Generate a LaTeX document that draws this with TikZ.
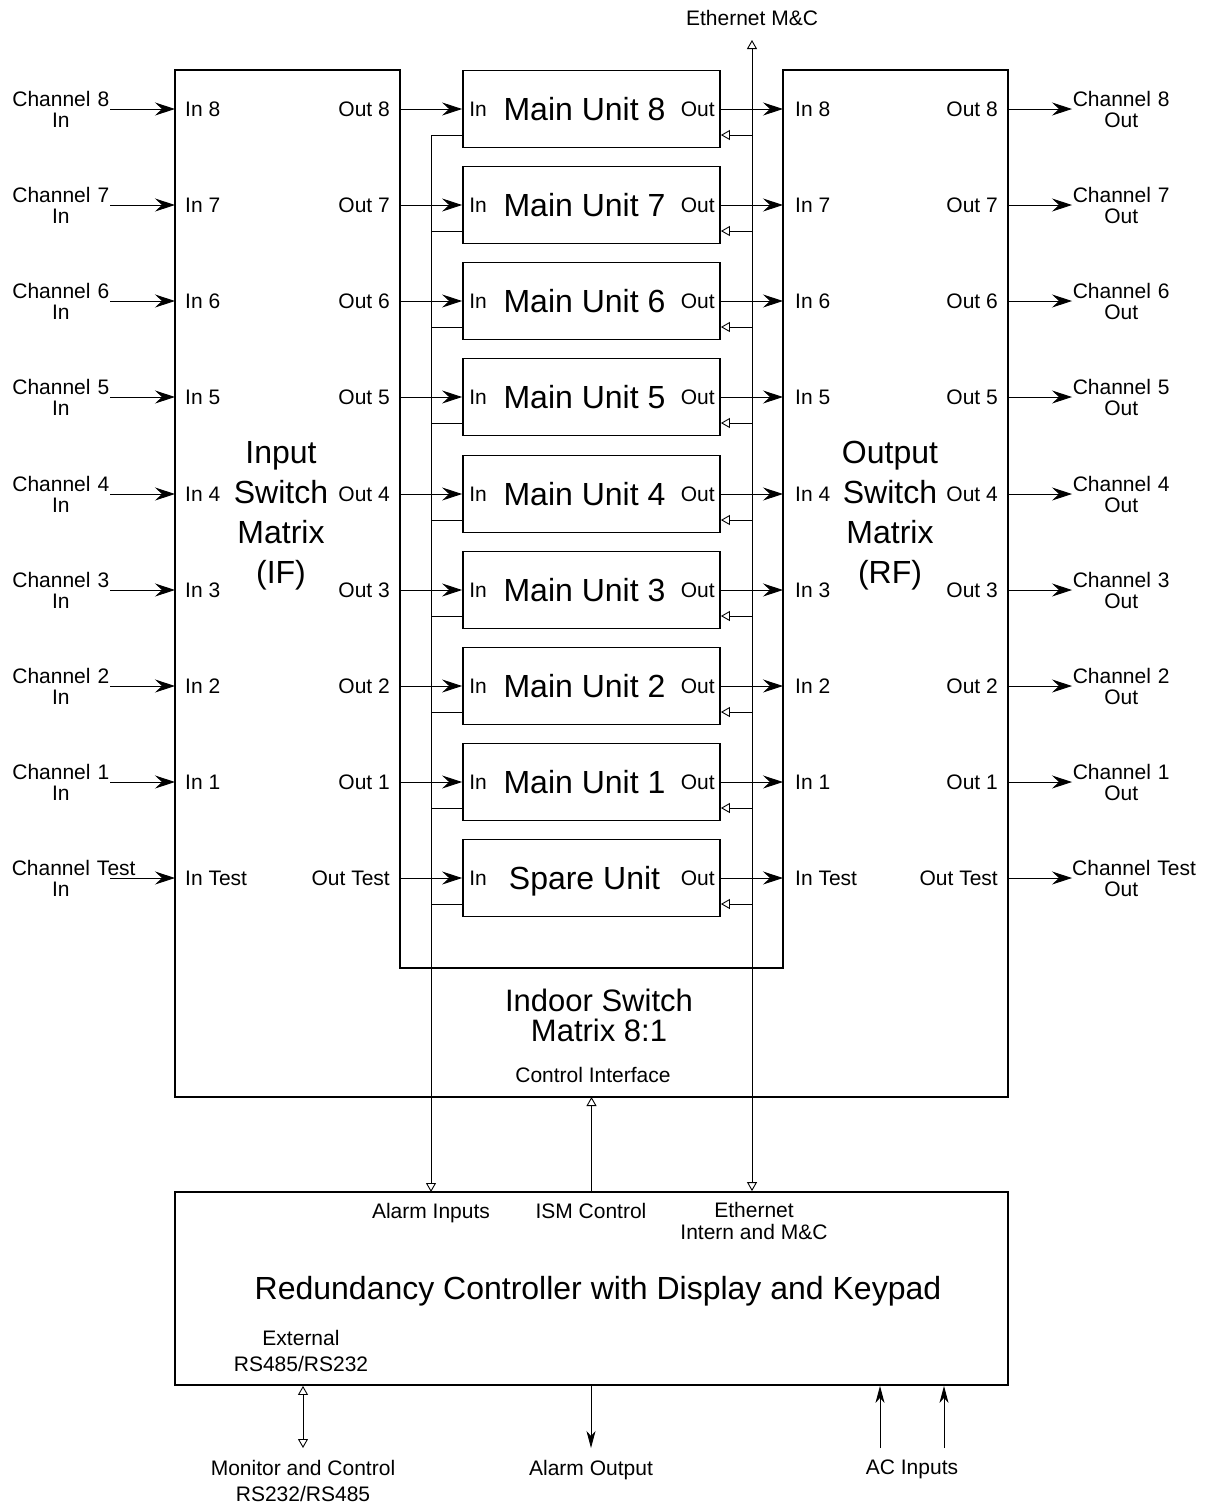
\documentclass[tikz,border=0pt]{standalone}
\usepackage{fontspec}
\setmainfont{Liberation Sans}
\usetikzlibrary{arrows.meta,positioning}

\begin{document}
\begin{tikzpicture}[
    x=1pt, y=-1pt,
    lbl/.style={inner sep=0pt, font=\fontsize{21}{21}\selectfont},
    big/.style={inner sep=0pt, align=center, font=\fontsize{32}{40}\selectfont},
    title/.style={big, text depth=0pt},
    chan/.style={lbl, text width=98pt, align=center},
    box/.style={draw, line width=1.8pt},
    unit/.style={box, minimum width=257pt, minimum height=77pt, inner sep=0pt},
    sig/.style={line width=0.9pt, -{Stealth[length=20pt,width=13pt,inset=7pt]}},
    thin sig/.style={line width=0.9pt, -{Stealth[length=17pt,width=9pt,inset=5pt]}},
    ctl/.style={line width=0.9pt, -{Triangle[open,length=9pt,width=10pt]}},
    ctl both/.style={line width=0.9pt, {Triangle[open,length=9pt,width=10pt]}-{Triangle[open,length=9pt,width=10pt]}}
]
\useasboundingbox (0,0) rectangle (1206,1505);

% switch matrix outline
\draw[box] (175,70) -- (400,70) -- (400,968) -- (783,968) -- (783,70)
    -- (1008,70) -- (1008,1097) -- (175,1097) -- cycle;
\node[big] (ifm) at (281,516) {Input\\Switch\\Matrix\\(IF)};
\node[big] (rfm) at (890,516) {Output\\Switch\\Matrix\\(RF)};
\node[big, font=\fontsize{31}{30}\selectfont] (ism) at (599,1015) {Indoor Switch\\Matrix 8:1};
\node[lbl] (ctrlif) at (593,1075) {Control Interface};

% redundancy controller
\node[box, minimum width=833pt, minimum height=193pt, inner sep=0pt] (rc) at (591.5,1288.5) {};
\node[lbl, font=\fontsize{32}{32}\selectfont] (rctitle) at (598,1291) {Redundancy Controller with Display and Keypad};

% rows
\foreach \id/\num/\name/\y in {8/8/Main Unit 8/109, 7/7/Main Unit 7/205,
    6/6/Main Unit 6/301, 5/5/Main Unit 5/397, 4/4/Main Unit 4/494,
    3/3/Main Unit 3/590, 2/2/Main Unit 2/686, 1/1/Main Unit 1/782,
    T/Test/Spare Unit/878} {
  \coordinate (ifin\id) at (175,\y);
  \coordinate (ifout\id) at (400,\y);
  \coordinate (rfin\id) at (783,\y);
  \coordinate (rfout\id) at (1008,\y);
  \node[unit] (mu\id) at (591.5,\y) {};
  \node[title] (mut\id) at ([xshift=-7pt]mu\id.center) {\name};
  \node[lbl, right=7pt of mu\id.west] (muin\id) {In};
  \node[lbl, left=6pt of mu\id.east] (muout\id) {Out};
  \node[lbl, right=10pt of ifin\id] (ifinl\id) {In \num};
  \node[lbl, left=10pt of ifout\id] (ifoutl\id) {Out \num};
  \node[lbl, right=12pt of rfin\id] (rfinl\id) {In \num};
  \node[lbl, left=10pt of rfout\id] (rfoutl\id) {Out \num};
  \node[chan, left=65pt of ifin\id] (chin\id) {Channel~\num\\In};
  \node[chan, right=64pt of rfout\id] (chout\id) {Channel~\num\\Out};
  \draw[sig] (chin\id) -- (ifin\id);
  \draw[sig] (ifout\id) -- (mu\id.west);
  \draw[sig] (mu\id.east) -- (rfin\id);
  \draw[sig] (rfout\id) -- (chout\id);
}

% alarm bus
\coordinate (almin) at (431,1192);
\node[lbl, below=11pt of almin] (almlbl) {Alarm Inputs};
\draw[ctl] ([yshift=-26pt]mu8.west) -| (almin);
\foreach \id in {7,6,5,4,3,2,1,T}
  \draw[line width=0.9pt] ([yshift=-26pt]mu\id.west) -- ([yshift=-26pt]mu\id.west -| almin);

% ethernet bus
\coordinate (ethtop) at (752,40);
\node[lbl, above=14pt of ethtop] (ethmc) {Ethernet M\&C};
\draw[ctl both] (ethtop) -- (rc.north -| ethtop);
\foreach \id in {8,7,6,5,4,3,2,1,T}
  \draw[ctl] ([yshift=-26pt]mu\id.east -| ethtop) -- ([yshift=-26pt]mu\id.east);
\node[lbl, align=center, font=\fontsize{21}{22}\selectfont] (ethint) at (754,1221) {Ethernet\\Intern and M\&C};

% ISM control
\coordinate (ismin) at (591.5,1097);
\draw[ctl] (rc.north) -- (ismin);
\node[lbl] (ismlbl) at (591,1211) {ISM Control};

% external ports
\node[lbl, align=center, font=\fontsize{21}{26}\selectfont] (ext) at (301,1351) {External\\RS485/RS232};
\coordinate (mcend) at (303,1448);
\node[lbl, align=center, font=\fontsize{21}{26}\selectfont, below=12pt of mcend] (mc) {Monitor and Control\\RS232/RS485};
\draw[ctl both] (rc.south -| mcend) -- (mcend);

\coordinate (aoend) at (591,1448);
\node[lbl, below=12pt of aoend] (alout) {Alarm Output};
\draw[thin sig] (rc.south -| aoend) -- (aoend);

\coordinate (ac1) at (880,1448);
\coordinate (ac2) at (944,1448);
\node[lbl] (acin) at (912,1469) {AC Inputs};
\draw[thin sig] (ac1) -- (rc.south -| ac1);
\draw[thin sig] (ac2) -- (rc.south -| ac2);
\end{tikzpicture}
\end{document}
